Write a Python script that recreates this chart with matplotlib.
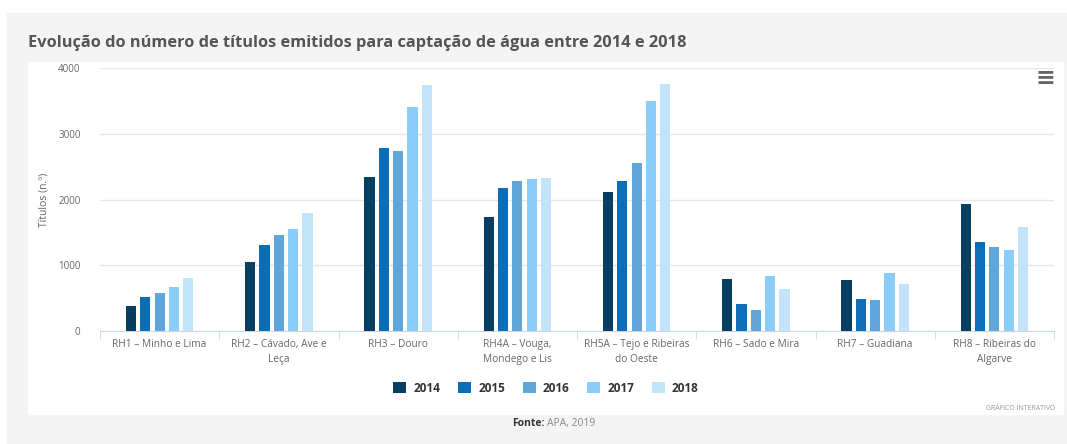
import matplotlib
matplotlib.use('Agg')
import matplotlib.pyplot as plt
from matplotlib.patches import Rectangle
import numpy as np

regions = ["RH1 – Minho e Lima", "RH2 – Cávado, Ave e\nLeça", "RH3 – Douro",
           "RH4A – Vouga,\nMondego e Lis", "RH5A – Tejo e Ribeiras\ndo Oeste",
           "RH6 – Sado e Mira", "RH7 – Guadiana", "RH8 – Ribeiras do\nAlgarve"]
years = ["2014", "2015", "2016", "2017", "2018"]
v2014 = [380, 1055, 2340, 1730, 2120, 785, 775, 1930]
v2015 = [515, 1305, 2790, 2180, 2275, 415, 485, 1360]
v2016 = [580, 1465, 2745, 2285, 2555, 320, 475, 1270]
v2017 = [675, 1545, 3410, 2310, 3495, 835, 875, 1225]
v2018 = [805, 1795, 3735, 2325, 3750, 645, 720, 1580]
colors = ["#0a3d62", "#0b6eb6", "#5fa6da", "#89cdf8", "#c2e3fa"]

plt.rcParams['font.family'] = ['Open Sans', 'DejaVu Sans']

W, H = 1067, 444
fig = plt.figure(figsize=(W / 100, H / 100), dpi=100)
fig.patch.set_facecolor("white")

def px(x, y, w, h):
    # pixel box (top-left origin) -> figure fraction
    return (x / W, 1 - (y + h) / H), w / W, h / H

(xy, w, h) = px(7, 13, 1060, 431)
fig.add_artist(Rectangle(xy, w, h, transform=fig.transFigure, color="#f4f4f4", zorder=-10))
(xy, w, h) = px(28, 62, 1035, 352)
fig.add_artist(Rectangle(xy, w, h, transform=fig.transFigure, color="white", zorder=-9))

ax = fig.add_axes([100 / W, 1 - 331 / H, 954 / W, 263 / H])
ax.set_facecolor("none")

x = np.arange(len(regions))
step = 0.12
bw = 0.085
series = [v2014, v2015, v2016, v2017, v2018]
for i, (vals, c, yr) in enumerate(zip(series, colors, years)):
    ax.bar(x + (i - 2) * step, vals, width=bw, color=c, label=yr, zorder=3)

ax.set_xlim(-0.5, len(regions) - 0.5)
ax.set_ylim(0, 4000)
ax.set_yticks([0, 1000, 2000, 3000, 4000])
ax.yaxis.grid(True, color="#e6e6e6", linewidth=1)
ax.set_axisbelow(True)
for s in ["top", "right", "left"]:
    ax.spines[s].set_visible(False)
ax.spines["bottom"].set_color("#ccd6eb")
ax.tick_params(axis="y", length=0, labelsize=7, labelcolor="#666666", pad=14)

ax.set_xticks(x)
ax.set_xticklabels(regions, fontsize=7.3, color="#666666", linespacing=1.4)
ax.tick_params(axis="x", which="major", length=0, pad=6)
ax.set_xticks(np.arange(len(regions) + 1) - 0.5, minor=True)
ax.tick_params(axis="x", which="minor", length=6, color="#ccd6eb")
ax.set_ylabel("Títulos (n.º)", fontsize=7.5, color="#666666", labelpad=6)

fig.text(28 / W, 1 - 43 / H, "Evolução do número de títulos emitidos para captação de água entre 2014 e 2018",
         fontsize=11.8, fontweight="bold", color="#555555", va="center", ha="left")

fig.text(1045 / W, 1 - 78 / H, "≡", fontsize=17, fontweight="bold", color="#666666", ha="center", va="center",
         family="DejaVu Sans")

leg = fig.legend(loc="center", bbox_to_anchor=(546 / W, 1 - 388 / H), ncol=5, frameon=False,
                 handlelength=1.1, handleheight=1.0, columnspacing=1.5, handletextpad=0.6,
                 prop={"size": 8.5, "weight": "bold"})
for t in leg.get_texts():
    t.set_color("#333333")

fig.text(1055 / W, 1 - 408 / H, "GRÁFICO INTERATIVO", fontsize=5, color="#999999", ha="right", va="center")

fig.text(545 / W, 1 - 423 / H, "Fonte:", fontsize=7.5, fontweight="bold", color="#333333", ha="right", va="center")
fig.text(547 / W, 1 - 423 / H, "APA, 2019", fontsize=7.5, color="#888888", ha="left", va="center")

fig.savefig("out.png", dpi=100)
